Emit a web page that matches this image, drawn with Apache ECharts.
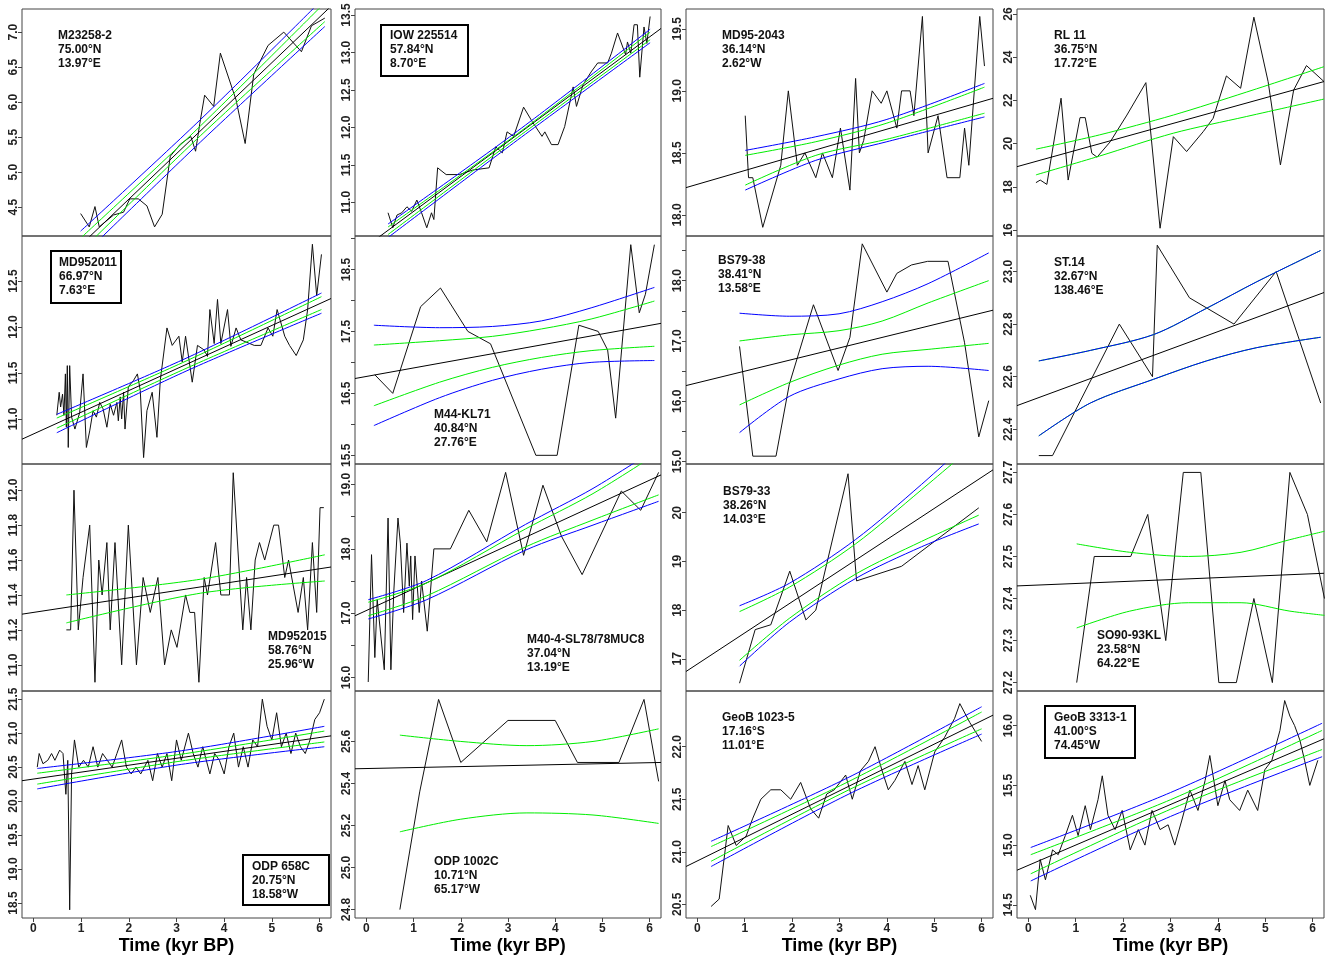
<!DOCTYPE html>
<html><head><meta charset="utf-8">
<script src="https://cdn.jsdelivr.net/npm/echarts@6/dist/echarts.min.js"></script>
<style>html,body{margin:0;padding:0;background:#fff}#c{width:1330px;height:956px}</style>
</head><body><div id="c"></div>
<script>
// ---------------- DATA ----------------
const xTicks = [0, 1, 2, 3, 4, 5, 6];
const xLimits = [-0.24, 6.24];
const xTitle = 'Time (kyr BP)';

// Panel 1: M23258-2
const p1Label = ['M23258-2', '75.00°N', '13.97°E'];
const p1Time = [0.99,1.17,1.29,1.38,1.68,1.89,2.02,2.20,2.38,2.54,2.70,2.87,3.08,3.30,3.40,3.49,3.59,3.78,3.92,4.25,4.44,4.62,4.92,5.25,5.62,5.83,6.11];
const p1Value = [4.41,4.22,4.51,4.22,4.39,4.43,4.62,4.62,4.52,4.22,4.40,5.23,5.40,5.51,5.30,5.70,6.10,5.94,6.70,6.03,5.41,6.40,6.81,7.00,6.72,7.09,7.20];
const p1Fit = [3.16, 7.37];
const p1BandTime = [0.99, 3.5, 6.11];
const p1GreenHi = [4.06, 5.66, 7.42];
const p1GreenLo = [3.87, 5.52, 7.15];
const p1BlueHi = [4.16, 5.75, 7.50];
const p1BlueLo = [3.78, 5.43, 7.08];
const p1YRange = [4.09, 7.33];
const p1YTicks = [4.5, 5.0, 5.5, 6.0, 6.5, 7.0];

// Panel 2: IOW 225514
const p2Label = ['IOW 225514', '57.84°N', '8.70°E'];
const p2Time = [0.46,0.56,0.65,0.75,0.86,0.96,1.07,1.17,1.28,1.38,1.43,1.51,1.69,1.97,2.25,2.60,2.74,2.88,2.98,3.12,3.33,3.51,3.72,3.78,3.92,4.06,4.20,4.38,4.45,4.59,4.76,4.90,5.11,5.19,5.32,5.49,5.53,5.60,5.67,5.74,5.79,5.88,5.94,6.01];
const p2Value = [10.86,10.66,10.83,10.86,10.94,10.88,11.03,10.86,10.66,10.86,10.77,11.46,11.37,11.37,11.43,11.46,11.74,11.66,11.94,11.88,12.27,12.08,11.88,11.94,11.77,11.77,12.01,12.54,12.28,12.57,12.74,12.86,12.86,12.99,13.26,12.97,13.14,12.99,13.37,13.37,12.67,13.34,13.12,13.48];
const p2Fit = [10.30, 13.32];
const p2BandTime = [0.46, 3.2, 6.01];
const p2GreenHi = [10.67, 11.915, 13.27];
const p2GreenLo = [10.57, 11.865, 13.17];
const p2BlueHi = [10.71, 11.95, 13.31];
const p2BlueLo = [10.53, 11.83, 13.13];
const p2YRange = [10.55, 13.58];
const p2YTicks = [11.0, 11.5, 12.0, 12.5, 13.0, 13.5];

// Panel 3: MD95-2043
const p3Label = ['MD95-2043', '36.14°N', '2.62°W'];
const p3Time = [1.01,1.08,1.17,1.38,1.76,1.92,2.11,2.27,2.50,2.64,2.85,3.02,3.22,3.34,3.42,3.51,3.69,3.88,4.00,4.21,4.31,4.49,4.57,4.75,4.87,5.08,5.27,5.54,5.64,5.73,5.96,6.06];
const p3Value = [18.8,18.3,18.3,17.9,18.4,19.0,18.4,18.5,18.3,18.5,18.3,18.7,18.2,19.1,18.5,18.6,19.0,18.9,19.0,18.7,19.0,19.0,18.8,19.6,18.5,18.8,18.3,18.3,18.7,18.4,19.6,19.2];
const p3Fit = [18.22, 18.94];
const p3BandTime = [1.01, 2.5, 4.0, 6.06];
const p3GreenHi = [18.48, 18.59, 18.74, 19.03];
const p3GreenLo = [18.24, 18.48, 18.61, 18.82];
const p3BlueHi = [18.52, 18.63, 18.77, 19.06];
const p3BlueLo = [18.20, 18.44, 18.59, 18.79];
const p3YRange = [17.83, 19.66];
const p3YTicks = [18.0, 18.5, 19.0, 19.5];

// Panel 4: RL 11
const p4Label = ['RL 11', '36.75°N', '17.72°E'];
const p4Time = [0.16,0.25,0.39,0.69,0.84,1.09,1.20,1.34,1.45,1.73,2.08,2.48,2.78,3.06,3.34,3.69,3.90,4.18,4.48,4.76,5.06,5.32,5.60,5.87,6.24];
const p4Value = [18.19,18.31,18.11,22.10,18.31,21.20,21.20,19.55,19.37,20.09,21.32,22.82,16.08,20.32,19.63,20.55,21.17,23.13,22.56,25.85,22.87,19.01,22.48,23.61,22.87];
const p4Fit = [18.93, 22.87];
const p4BandTime = [0.16, 1.5, 3.06, 4.6, 6.24];
const p4GreenHi = [19.74, 20.40, 21.32, 22.38, 23.56];
const p4GreenLo = [18.55, 19.42, 20.48, 21.25, 22.06];
const p4BlueHi = [];
const p4BlueLo = [];
const p4YRange = [15.72, 26.23];
const p4YTicks = [16, 18, 20, 22, 24, 26];

// Panel 5: MD952011
const p5Label = ['MD952011', '66.97°N', '7.63°E'];
const p5Time = [0.49,0.54,0.57,0.61,0.64,0.67,0.69,0.71,0.73,0.76,0.80,0.87,0.90,0.97,1.04,1.11,1.18,1.25,1.32,1.39,1.46,1.54,1.61,1.68,1.75,1.78,1.82,1.85,1.89,1.92,1.99,2.10,2.18,2.24,2.31,2.38,2.49,2.59,2.66,2.80,2.91,3.05,3.12,3.19,3.33,3.44,3.58,3.65,3.70,3.79,3.86,3.93,4.07,4.14,4.25,4.35,4.63,4.77,4.92,5.02,5.11,5.27,5.37,5.51,5.66,5.75,5.85,5.94,6.04];
const p5Value = [11.04,11.29,11.13,11.27,11.04,11.49,10.91,11.58,10.69,11.58,11.02,10.89,10.89,11.07,11.49,10.69,10.87,11.09,11.02,11.18,11.11,10.91,11.16,11.04,11.18,10.98,11.24,11.00,11.29,10.89,11.35,11.42,11.49,11.31,10.58,11.09,11.29,10.80,11.42,11.99,11.80,11.90,11.62,11.90,11.40,11.80,11.75,11.68,12.19,11.82,12.30,11.82,12.19,11.79,11.99,11.86,11.80,11.80,11.99,11.90,12.19,11.90,11.80,11.69,11.86,12.19,12.90,12.34,12.79];
const p5Fit = [10.78, 12.31];
const p5BandTime = [0.49, 3.2, 6.04];
const p5GreenHi = [11.01, 11.63, 12.33];
const p5GreenLo = [10.90, 11.55, 12.19];
const p5BlueHi = [11.05, 11.66, 12.37];
const p5BlueLo = [10.85, 11.52, 12.15];
const p5YRange = [10.51, 12.99];
const p5YTicks = [11.0, 11.5, 12.0, 12.5];

// Panel 6: M44-KL71
const p6Label = ['M44-KL71', '40.84°N', '27.76°E'];
const p6Time = [0.18,0.56,1.15,1.57,2.15,2.63,3.59,4.04,4.50,4.91,5.11,5.28,5.60,5.78,5.91,6.10];
const p6Value = [16.8,16.5,17.9,18.2,17.5,17.3,15.5,15.5,17.6,17.5,17.2,16.1,18.9,17.8,18.1,18.9];
const p6Fit = [16.74, 17.63];
const p6BandTime = [0.16, 1.55, 2.67, 3.71, 4.76, 6.10];
const p6GreenHi = [17.28, 17.35, 17.42, 17.54, 17.70, 17.99];
const p6GreenLo = [16.30, 16.68, 16.92, 17.08, 17.19, 17.26];
const p6BlueHi = [17.60, 17.56, 17.58, 17.67, 17.88, 18.21];
const p6BlueLo = [15.98, 16.43, 16.71, 16.89, 17.00, 17.03];
const p6YRange = [15.36, 19.04];
const p6YTicks = [15.5, 16.0, 16.5, 17.0, 17.5, 18.0, 18.5, 19.0];
const p6YLabels = [15.5, 16.5, 17.5, 18.5];

// Panel 7: BS79-38
const p7Label = ['BS79-38', '38.41°N', '13.58°E'];
const p7Time = [0.89,1.17,1.66,1.94,2.45,2.97,3.22,3.48,4.00,4.21,4.52,4.86,5.29,5.64,5.94,6.15];
const p7Value = [16.91,15.09,15.09,16.28,17.60,16.51,17.06,18.61,17.81,18.12,18.26,18.32,18.32,16.97,15.41,16.01];
const p7Fit = [16.26, 17.51];
const p7BandTime = [0.89, 1.94, 2.99, 3.90, 4.87, 6.15];
const p7GreenHi = [17.00, 17.10, 17.17, 17.33, 17.63, 18.00];
const p7GreenLo = [15.94, 16.31, 16.60, 16.78, 16.86, 16.96];
const p7BlueHi = [17.46, 17.41, 17.45, 17.65, 17.95, 18.46];
const p7BlueLo = [15.48, 16.08, 16.37, 16.54, 16.58, 16.51];
const p7YRange = [14.96, 18.74];
const p7YTicks = [15.0, 15.5, 16.0, 16.5, 17.0, 17.5, 18.0, 18.5];
const p7YLabels = [15.0, 16.0, 17.0, 18.0];

// Panel 8: ST.14
const p8Label = ['ST.14', '32.67°N', '138.46°E'];
const p8Time = [0.22,0.51,1.92,2.62,2.72,3.40,4.34,5.23,6.17];
const p8Value = [22.3,22.3,22.8,22.6,23.1,22.9,22.8,23.0,22.5];
const p8Fit = [22.49, 22.92];
const p8BandTime = [0.22, 1.31, 2.64, 3.76, 4.81, 6.17];
const p8GreenHi = [22.66, 22.70, 22.76, 22.86, 22.96, 23.08];
const p8GreenLo = [22.375, 22.50, 22.59, 22.66, 22.71, 22.75];
const p8BlueHi = [22.66, 22.70, 22.76, 22.86, 22.96, 23.08];
const p8BlueLo = [22.375, 22.50, 22.59, 22.66, 22.71, 22.75];
const p8YRange = [22.268, 23.135];
const p8YTicks = [22.4, 22.6, 22.8, 23.0];

// Panel 9: MD952015
const p9Label = ['MD952015', '58.76°N', '25.96°W'];
const p9Time = [0.69,0.78,0.85,0.94,1.04,1.18,1.29,1.37,1.44,1.54,1.61,1.71,1.85,1.99,2.16,2.30,2.45,2.61,2.75,2.89,3.01,3.19,3.28,3.38,3.47,3.58,3.65,3.82,3.93,4.11,4.19,4.39,4.47,4.56,4.65,4.74,4.85,5.04,5.14,5.27,5.35,5.55,5.66,5.75,5.85,5.94,6.01,6.09];
const p9Value = [11.2,11.2,12.0,11.2,11.5,11.8,10.9,11.6,11.4,11.7,11.2,11.7,11.0,11.8,11.0,11.5,11.3,11.5,11.0,11.2,11.1,11.4,11.3,11.3,10.9,11.5,11.4,11.7,11.4,11.4,12.1,11.2,11.5,11.2,11.6,11.7,11.6,11.8,11.8,11.5,11.6,11.3,11.5,11.2,11.7,11.3,11.9,11.9];
const p9Fit = [11.29, 11.56];
const p9BandTime = [0.69, 3.5, 6.11];
const p9GreenHi = [11.40, 11.49, 11.63];
const p9GreenLo = [11.24, 11.41, 11.48];
const p9BlueHi = [];
const p9BlueLo = [];
const p9YRange = [10.85, 12.15];
const p9YTicks = [11.0, 11.2, 11.4, 11.6, 11.8, 12.0];

// Panel 10: M40-4-SL78/78MUC8
const p10Label = ['M40-4-SL78/78MUC8', '37.04°N', '13.19°E'];
const p10Time = [0.04,0.11,0.18,0.23,0.38,0.46,0.52,0.58,0.67,0.72,0.79,0.86,0.91,0.94,0.98,1.03,1.12,1.17,1.29,1.43,1.78,2.17,2.55,2.95,3.33,3.74,4.13,4.57,5.40,5.81,6.19];
const p10Value = [15.93,17.91,16.31,17.21,16.12,18.48,16.12,17.32,18.48,18.09,17.01,18.09,17.42,17.89,16.90,17.89,17.01,17.50,16.72,18.00,18.00,18.60,18.11,19.19,17.90,18.99,18.20,17.60,18.90,18.60,19.19];
const p10Fit = [16.96, 19.15];
const p10BandTime = [0.04, 1.28, 3.37, 4.8, 6.19];
const p10GreenHi = [17.17, 17.47, 18.31, 18.86, 19.50];
const p10GreenLo = [16.96, 17.27, 18.03, 18.45, 18.84];
const p10BlueHi = [17.21, 17.51, 18.38, 18.94, 19.58];
const p10BlueLo = [16.91, 17.21, 17.98, 18.37, 18.74];
const p10YRange = [15.79, 19.32];
const p10YTicks = [16.0, 16.5, 17.0, 17.5, 18.0, 18.5, 19.0];
const p10YLabels = [16.0, 17.0, 18.0, 19.0];

// Panel 11: BS79-33
const p11Label = ['BS79-33', '38.26°N', '14.03°E'];
const p11Time = [0.89,1.22,1.55,1.95,2.29,2.50,3.18,3.36,4.31,5.94];
const p11Value = [16.5,17.6,17.7,18.8,17.8,18.0,20.8,18.6,18.9,20.1];
const p11Fit = [16.74, 20.88];
const p11BandTime = [0.89, 1.94, 3.34, 4.73, 5.94];
const p11GreenHi = [17.97, 18.47, 19.36, 20.47, 21.47];
const p11GreenLo = [16.97, 17.83, 18.74, 19.41, 19.95];
const p11BlueHi = [18.09, 18.55, 19.45, 20.58, 21.65];
const p11BlueLo = [16.85, 17.75, 18.65, 19.30, 19.77];
const p11YRange = [16.34, 21.0];
const p11YTicks = [17, 18, 19, 20];

// Panel 12: SO90-93KL
const p12Label = ['SO90-93KL', '23.58°N', '64.22°E'];
const p12Time = [1.02,1.39,2.16,2.52,2.90,3.27,3.64,4.02,4.39,4.76,5.15,5.52,5.89,6.25];
const p12Value = [27.2,27.5,27.5,27.6,27.3,27.7,27.7,27.2,27.2,27.4,27.2,27.7,27.6,27.4];
const p12Fit = [27.43, 27.46];
const p12BandTime = [1.02, 2.14, 3.38, 4.49, 5.52, 6.25];
const p12GreenHi = [27.53, 27.51, 27.50, 27.51, 27.54, 27.56];
const p12GreenLo = [27.33, 27.37, 27.39, 27.39, 27.37, 27.36];
const p12BlueHi = [];
const p12BlueLo = [];
const p12YRange = [27.18, 27.72];
const p12YTicks = [27.2, 27.3, 27.4, 27.5, 27.6, 27.7];

// Panel 13: ODP 658C
const p13Label = ['ODP 658C', '20.75°N', '18.58°W'];
const p13Time = [0.08,0.12,0.2,0.3,0.38,0.45,0.55,0.62,0.68,0.72,0.76,0.8,0.86,0.95,1.05,1.15,1.25,1.35,1.45,1.55,1.65,1.75,1.85,1.95,2.05,2.15,2.25,2.4,2.5,2.6,2.7,2.8,2.9,3.0,3.1,3.25,3.35,3.45,3.55,3.7,3.8,3.9,4.0,4.1,4.2,4.3,4.4,4.5,4.6,4.7,4.8,4.9,5.0,5.1,5.2,5.3,5.4,5.5,5.6,5.7,5.8,5.9,6.0,6.1];
const p13Value = [20.5,20.7,20.55,20.6,20.7,20.6,20.75,20.7,20.1,20.6,18.4,20.4,20.9,20.5,20.6,20.5,20.8,20.5,20.7,20.6,20.5,20.7,20.9,20.5,20.4,20.5,20.4,20.6,20.3,20.7,20.5,20.7,20.3,20.9,20.6,21.0,20.7,20.5,20.8,20.4,20.7,20.6,20.4,20.8,21.0,20.5,20.8,20.5,20.9,20.8,21.5,21.1,20.9,21.3,20.8,21.0,20.7,21.0,20.8,20.7,20.9,21.2,21.3,21.5];
const p13Fit = [20.30, 20.96];
const p13BandTime = [0.08, 3.1, 6.1];
const p13GreenHi = [20.41, 20.69, 21.03];
const p13GreenLo = [20.25, 20.59, 20.87];
const p13BlueHi = [20.48, 20.74, 21.10];
const p13BlueLo = [20.18, 20.54, 20.80];
const p13YRange = [18.28, 21.62];
const p13YTicks = [18.5, 19.0, 19.5, 20.0, 20.5, 21.0, 21.5];

// Panel 14: ODP 1002C
const p14Label = ['ODP 1002C', '10.71°N', '65.17°W'];
const p14Time = [0.71,1.13,1.53,2.0,3.0,4.0,4.47,5.35,5.88,6.19];
const p14Value = [24.8,25.36,25.8,25.5,25.7,25.7,25.5,25.5,25.8,25.41];
const p14Fit = [25.47, 25.50];
const p14BandTime = [0.71, 2.0, 3.4, 4.8, 6.19];
const p14GreenHi = [25.63, 25.60, 25.58, 25.60, 25.66];
const p14GreenLo = [25.17, 25.23, 25.26, 25.25, 25.21];
const p14BlueHi = [];
const p14BlueLo = [];
const p14YRange = [24.76, 25.84];
const p14YTicks = [24.8, 25.0, 25.2, 25.4, 25.6];

// Panel 15: GeoB 1023-5
const p15Label = ['GeoB 1023-5', '17.16°S', '11.01°E'];
const p15Time = [0.29,0.46,0.65,0.82,1.03,1.17,1.34,1.55,1.76,1.97,2.18,2.39,2.56,2.73,2.89,3.13,3.27,3.44,3.61,3.75,3.90,4.03,4.17,4.38,4.53,4.66,4.80,5.01,5.22,5.43,5.54,5.75,6.0];
const p15Value = [20.48,20.55,21.25,21.06,21.15,21.32,21.5,21.59,21.59,21.5,21.66,21.41,21.32,21.55,21.59,21.73,21.5,21.77,21.86,22.0,21.77,21.59,21.68,21.86,21.64,21.82,21.59,21.95,22.09,22.27,22.41,22.23,22.05];
const p15Fit = [20.86, 22.30];
const p15BandTime = [0.29, 3.2, 6.0];
const p15GreenHi = [21.05, 21.67, 22.33];
const p15GreenLo = [20.91, 21.59, 22.17];
const p15BlueHi = [21.10, 21.71, 22.38];
const p15BlueLo = [20.86, 21.55, 22.12];
const p15YRange = [20.37, 22.53];
const p15YTicks = [20.5, 21.0, 21.5, 22.0];

// Panel 16: GeoB 3313-1
const p16Label = ['GeoB 3313-1', '41.00°S', '74.45°W'];
const p16Time = [0.04,0.15,0.25,0.36,0.51,0.63,0.78,0.93,1.05,1.20,1.31,1.47,1.56,1.68,1.83,1.98,2.15,2.32,2.46,2.61,2.78,2.95,3.09,3.24,3.41,3.58,3.73,3.83,4.0,4.15,4.25,4.46,4.63,4.84,4.99,5.14,5.31,5.41,5.52,5.62,5.73,5.83,5.94,6.11];
const p16Value = [14.58,14.46,14.88,14.71,14.96,14.92,15.08,15.25,15.08,15.33,15.13,15.38,15.58,15.25,15.13,15.29,14.96,15.13,15.0,15.29,15.13,15.17,15.0,15.21,15.46,15.29,15.54,15.75,15.33,15.54,15.38,15.29,15.46,15.29,15.63,15.71,15.96,16.21,16.08,16.0,15.88,15.71,15.5,15.71];
const p16Fit = [14.79, 15.89];
const p16BandTime = [0.05, 3.0, 6.2];
const p16GreenHi = [14.92, 15.38, 15.96];
const p16GreenLo = [14.76, 15.30, 15.80];
const p16BlueHi = [14.98, 15.44, 16.02];
const p16BlueLo = [14.70, 15.24, 15.74];
const p16YRange = [14.39, 16.29];
const p16YTicks = [14.5, 15.0, 15.5, 16.0];

// ---------------- LAYOUT ----------------
const colLeft = [22, 355, 686, 1017];
const colWidth = [309, 306, 307, 307];
const rowTop = [9, 236, 464, 691];
const rowHeight = [227, 228, 227, 234];
const labelPos = [[58,36],[390,36],[722,36],[1054,36],[59,263],[434,415],[718,261],[1054,263],[268,637],[527,640],[723,492],[1097,636],[252,867],[434,862],[722,718],[1054,718]];
const labelBoxes = {1:[381,25,87,51], 4:[51,251,70,52], 12:[243,855,86,50], 15:[1045,706,90,52]};
const FONT = '"Liberation Sans", Arial, sans-serif';

const panels = [
 {label:p1Label,time:p1Time,value:p1Value,fit:p1Fit,bt:p1BandTime,gh:p1GreenHi,gl:p1GreenLo,bh:p1BlueHi,bl:p1BlueLo,yr:p1YRange,yt:p1YTicks,yl:p1YTicks,dec:1},
 {label:p2Label,time:p2Time,value:p2Value,fit:p2Fit,bt:p2BandTime,gh:p2GreenHi,gl:p2GreenLo,bh:p2BlueHi,bl:p2BlueLo,yr:p2YRange,yt:p2YTicks,yl:p2YTicks,dec:1},
 {label:p3Label,time:p3Time,value:p3Value,fit:p3Fit,bt:p3BandTime,gh:p3GreenHi,gl:p3GreenLo,bh:p3BlueHi,bl:p3BlueLo,yr:p3YRange,yt:p3YTicks,yl:p3YTicks,dec:1},
 {label:p4Label,time:p4Time,value:p4Value,fit:p4Fit,bt:p4BandTime,gh:p4GreenHi,gl:p4GreenLo,bh:p4BlueHi,bl:p4BlueLo,yr:p4YRange,yt:p4YTicks,yl:p4YTicks,dec:0},
 {label:p5Label,time:p5Time,value:p5Value,fit:p5Fit,bt:p5BandTime,gh:p5GreenHi,gl:p5GreenLo,bh:p5BlueHi,bl:p5BlueLo,yr:p5YRange,yt:p5YTicks,yl:p5YTicks,dec:1},
 {label:p6Label,time:p6Time,value:p6Value,fit:p6Fit,bt:p6BandTime,gh:p6GreenHi,gl:p6GreenLo,bh:p6BlueHi,bl:p6BlueLo,yr:p6YRange,yt:p6YTicks,yl:p6YLabels,dec:1},
 {label:p7Label,time:p7Time,value:p7Value,fit:p7Fit,bt:p7BandTime,gh:p7GreenHi,gl:p7GreenLo,bh:p7BlueHi,bl:p7BlueLo,yr:p7YRange,yt:p7YTicks,yl:p7YLabels,dec:1},
 {label:p8Label,time:p8Time,value:p8Value,fit:p8Fit,bt:p8BandTime,gh:p8GreenHi,gl:p8GreenLo,bh:p8BlueHi,bl:p8BlueLo,yr:p8YRange,yt:p8YTicks,yl:p8YTicks,dec:1},
 {label:p9Label,time:p9Time,value:p9Value,fit:p9Fit,bt:p9BandTime,gh:p9GreenHi,gl:p9GreenLo,bh:p9BlueHi,bl:p9BlueLo,yr:p9YRange,yt:p9YTicks,yl:p9YTicks,dec:1},
 {label:p10Label,time:p10Time,value:p10Value,fit:p10Fit,bt:p10BandTime,gh:p10GreenHi,gl:p10GreenLo,bh:p10BlueHi,bl:p10BlueLo,yr:p10YRange,yt:p10YTicks,yl:p10YLabels,dec:1},
 {label:p11Label,time:p11Time,value:p11Value,fit:p11Fit,bt:p11BandTime,gh:p11GreenHi,gl:p11GreenLo,bh:p11BlueHi,bl:p11BlueLo,yr:p11YRange,yt:p11YTicks,yl:p11YTicks,dec:0},
 {label:p12Label,time:p12Time,value:p12Value,fit:p12Fit,bt:p12BandTime,gh:p12GreenHi,gl:p12GreenLo,bh:p12BlueHi,bl:p12BlueLo,yr:p12YRange,yt:p12YTicks,yl:p12YTicks,dec:1},
 {label:p13Label,time:p13Time,value:p13Value,fit:p13Fit,bt:p13BandTime,gh:p13GreenHi,gl:p13GreenLo,bh:p13BlueHi,bl:p13BlueLo,yr:p13YRange,yt:p13YTicks,yl:p13YTicks,dec:1},
 {label:p14Label,time:p14Time,value:p14Value,fit:p14Fit,bt:p14BandTime,gh:p14GreenHi,gl:p14GreenLo,bh:p14BlueHi,bl:p14BlueLo,yr:p14YRange,yt:p14YTicks,yl:p14YTicks,dec:1},
 {label:p15Label,time:p15Time,value:p15Value,fit:p15Fit,bt:p15BandTime,gh:p15GreenHi,gl:p15GreenLo,bh:p15BlueHi,bl:p15BlueLo,yr:p15YRange,yt:p15YTicks,yl:p15YTicks,dec:1},
 {label:p16Label,time:p16Time,value:p16Value,fit:p16Fit,bt:p16BandTime,gh:p16GreenHi,gl:p16GreenLo,bh:p16BlueHi,bl:p16BlueLo,yr:p16YRange,yt:p16YTicks,yl:p16YTicks,dec:1}
];

function zip(xs, ys) { return xs.map((x, i) => [x, ys[i]]); }

const grids = [], xAxes = [], yAxes = [], series = [], graphics = [];
panels.forEach((p, i) => {
  const r = Math.floor(i / 4), c = i % 4;
  const bottom = r === 3;
  grids.push({left: colLeft[c], top: rowTop[r], width: colWidth[c], height: rowHeight[r],
    show: true, borderColor: '#444', borderWidth: 1, backgroundColor: 'transparent'});
  xAxes.push({type: 'value', gridIndex: i, min: xLimits[0], max: xLimits[1],
    axisLine: {show: false, onZero: false}, splitLine: {show: false},
    axisTick: {show: bottom, customValues: xTicks, length: 4, lineStyle: {color: '#444'}},
    axisLabel: {show: bottom, customValues: xTicks, margin: 5, fontSize: 12, fontWeight: 'bold', color: '#222', fontFamily: FONT},
    name: bottom ? xTitle : '', nameLocation: 'middle', nameGap: 19,
    nameTextStyle: {fontSize: 18, fontWeight: 'bold', color: '#000', fontFamily: FONT}});
  yAxes.push({type: 'value', gridIndex: i, min: p.yr[0], max: p.yr[1],
    axisLine: {show: false, onZero: false}, splitLine: {show: false},
    axisTick: {show: true, customValues: p.yt, length: 4, lineStyle: {color: '#444'}},
    axisLabel: {customValues: p.yl, rotate: 90, margin: 2, fontSize: 12, fontWeight: 'bold', color: '#222', fontFamily: FONT,
      formatter: v => Number(v).toFixed(p.dec)}});
  const base = {type: 'line', xAxisIndex: i, yAxisIndex: i, showSymbol: false, symbol: 'none', silent: true, animation: false, clip: true};
  series.push(Object.assign({}, base, {data: zip(p.time, p.value), lineStyle: {color: '#111', width: 1}}));
  series.push(Object.assign({}, base, {data: zip(xLimits, p.fit), lineStyle: {color: '#000', width: 1}}));
  [[p.gh, '#00ee00'], [p.gl, '#00ee00'], [p.bh, '#0000ff'], [p.bl, '#0000ff']].forEach(([ys, col]) => {
    if (ys.length) series.push(Object.assign({}, base, {data: zip(p.bt, ys), smooth: 0.3, lineStyle: {color: col, width: 1}}));
  });
  const [lx, ly] = labelPos[i];
  p.label.forEach((t, k) => {
    graphics.push({type: 'text', silent: true, z: 100, style: {text: t, x: lx, y: ly + k * 14, font: 'bold 12px ' + FONT, fill: '#111', verticalAlign: 'middle'}});
  });
  if (labelBoxes[i]) {
    const b = labelBoxes[i];
    graphics.push({type: 'rect', silent: true, z: 100, shape: {x: b[0], y: b[1], width: b[2], height: b[3]}, style: {fill: 'none', stroke: '#000', lineWidth: 2}});
  }
});

const chart = echarts.init(document.getElementById('c'), null, {renderer: 'canvas'});
chart.setOption({animation: false, backgroundColor: '#fff', grid: grids, xAxis: xAxes, yAxis: yAxes, series: series, graphic: graphics});
</script>
</body></html>
